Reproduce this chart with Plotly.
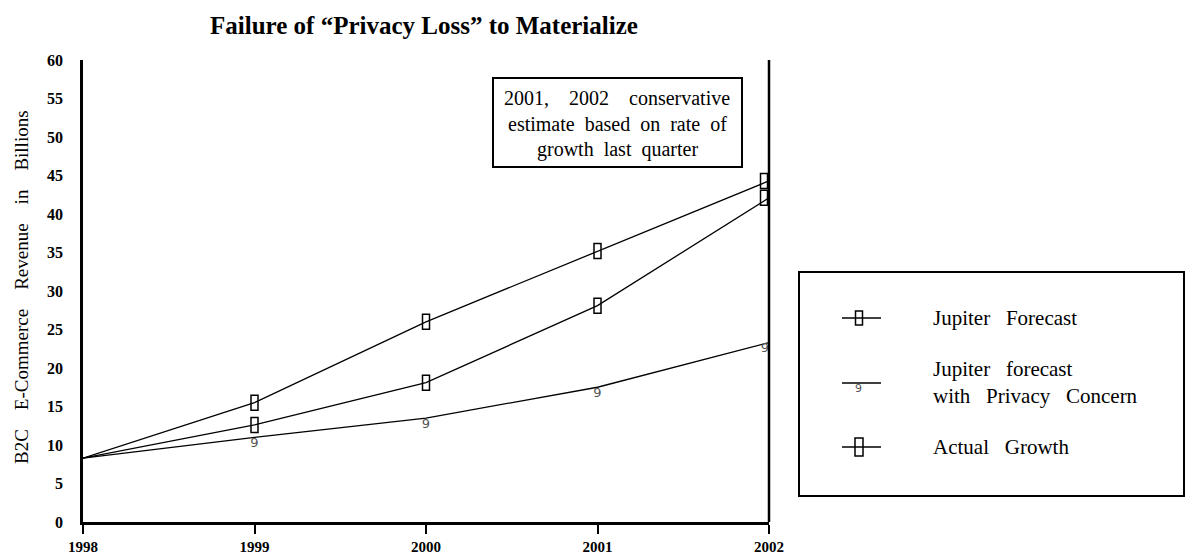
import plotly.graph_objects as go

years = [1998, 1999, 2000, 2001, 2002]
jupiter_forecast = [8.3, 15.5, 26.0, 35.2, 44.3]
privacy_concern = [8.3, 11.0, 13.5, 17.5, 23.3]
actual_growth = [8.3, 12.6, 18.1, 28.1, 42.1]
y_ticks = [0, 5, 10, 15, 20, 25, 30, 35, 40, 45, 50, 55, 60]
legend_labels = ["Jupiter   Forecast", "Jupiter   forecast<br>with   Privacy   Concern", "Actual   Growth"]
note_lines = ["2001,    2002    conservative", "estimate  based  on  rate  of", "growth  last  quarter"]
y_title = "B2C    E-Commerce    Revenue    in    Billions"
chart_title = "Failure of \u201cPrivacy Loss\u201d to Materialize"

SERIF = "Liberation Serif"
NB = "\u00a0"
FIG_W, FIG_H = 1190, 559


def nb(s):
    return s.replace(" ", NB)


fig = go.Figure()
shapes = []


def add_series(y, box, glyph=None):
    fig.add_trace(go.Scatter(
        x=years, y=y, mode="lines+text" if glyph else "lines",
        text=[""] + [glyph] * (len(y) - 1) if glyph else None,
        textposition=["bottom center"] * (len(y) - 1) + ["bottom left"],
        textfont=dict(family="DejaVu Sans", size=13, color="#555555"),
        line=dict(color="black", width=1.3), showlegend=False, cliponaxis=False,
    ))
    if box:
        for i, (xv, yv) in enumerate(zip(years, y)):
            if i == 0:
                continue
            shift = -5 if xv == years[-1] else 0
            shapes.append(dict(type="rect", xref="x", yref="y", xsizemode="pixel", ysizemode="pixel",
                               xanchor=xv, yanchor=yv, x0=-3.5 + shift, x1=3.5 + shift, y0=-7.5, y1=7.5,
                               line=dict(color="black", width=1.5)))


add_series(jupiter_forecast, True)
add_series(actual_growth, True)
add_series(privacy_concern, False, "9")

# reference pixel coordinates of plot area
PX_L, PX_R, PX_T, PX_B = 83, 769, 60, 522
W, H = PX_R - PX_L, PX_B - PX_T


def px(x):
    return (x - PX_L) / W


def py(y):
    return (PX_B - y) / H


shapes += [
    dict(type="line", xref="paper", yref="paper", x0=1, x1=1, y0=0, y1=1,
         line=dict(color="black", width=2.5)),
    dict(type="rect", xref="paper", yref="paper", x0=px(493), x1=px(742), y0=py(167), y1=py(78),
         line=dict(color="black", width=2), fillcolor="white"),
    dict(type="rect", xref="paper", yref="paper", x0=px(799), x1=px(1184), y0=py(496), y1=py(272),
         line=dict(color="black", width=2), fillcolor="white"),
]

annotations = [
    dict(text="<b>" + chart_title + "</b>", xref="paper", yref="paper",
         x=px(424), y=py(25), showarrow=False, font=dict(family=SERIF, size=25, color="black"),
         xanchor="center", yanchor="middle"),
    dict(text=nb(y_title), xref="paper", yref="paper", x=px(21), y=py(287), textangle=-90,
         showarrow=False, font=dict(family=SERIF, size=19, color="black"),
         xanchor="center", yanchor="middle"),
]
for ly, line in zip([98, 124, 150], note_lines):
    annotations.append(dict(text=nb(line), xref="paper", yref="paper", x=px(617), y=py(ly),
                            showarrow=False, font=dict(family=SERIF, size=20, color="black"),
                            xanchor="center", yanchor="middle"))

leg_y = [318, 383, 447]
leg_box = [(7, 14), None, (8, 18)]
for yy, label, bx in zip(leg_y, legend_labels, leg_box):
    shapes.append(dict(type="line", xref="paper", yref="paper", x0=px(842), x1=px(881),
                       y0=py(yy), y1=py(yy), line=dict(color="black", width=1.3)))
    if bx:
        shapes.append(dict(type="rect", xref="paper", yref="paper", xsizemode="pixel", ysizemode="pixel",
                           xanchor=px(859), yanchor=py(yy), x0=-bx[0] / 2, x1=bx[0] / 2,
                           y0=-bx[1] / 2, y1=bx[1] / 2, line=dict(color="black", width=1.5)))
    else:
        annotations.append(dict(text="9", xref="paper", yref="paper", x=px(858), y=py(yy + 5),
                                showarrow=False, font=dict(family="DejaVu Sans", size=11, color="#555555"),
                                xanchor="center", yanchor="middle"))
    lab = nb(label).replace(NB + "<br>", "<br>").replace("<br>" + NB, "<br>")
    annotations.append(dict(text=lab, xref="paper", yref="paper", x=px(931), y=py(yy),
                            showarrow=False, font=dict(family=SERIF, size=21, color="black"),
                            xanchor="left", yanchor="middle", align="left"))

fig.update_layout(
    width=FIG_W, height=FIG_H,
    margin=dict(l=PX_L, r=FIG_W - PX_R, t=PX_T, b=FIG_H - PX_B),
    paper_bgcolor="white", plot_bgcolor="white",
    shapes=shapes, annotations=annotations,
    xaxis=dict(range=[1998, 2002], tickvals=years, ticktext=[str(y) for y in years],
               automargin=False,
               showgrid=False, zeroline=False, showline=True, linecolor="black", linewidth=2.5,
               ticks="outside", ticklen=9, tickwidth=2, tickcolor="black", ticklabelstandoff=0,
               tickfont=dict(family=SERIF, size=15, color="black", weight="bold")),
    yaxis=dict(range=[0, 60], tickvals=y_ticks, showgrid=False, zeroline=False,
               automargin=False,
               showline=True, linecolor="black", linewidth=2.5, ticks="",
               ticklabelstandoff=14,
               tickfont=dict(family=SERIF, size=16, color="black", weight="bold")),
)

post = (
    "document.body.style.margin='0';"
    "document.querySelectorAll('.main-svg').forEach(function(s){s.style.overflow='visible';});"
)
fig.write_html("out.html", post_script=post, config={"displayModeBar": False})
